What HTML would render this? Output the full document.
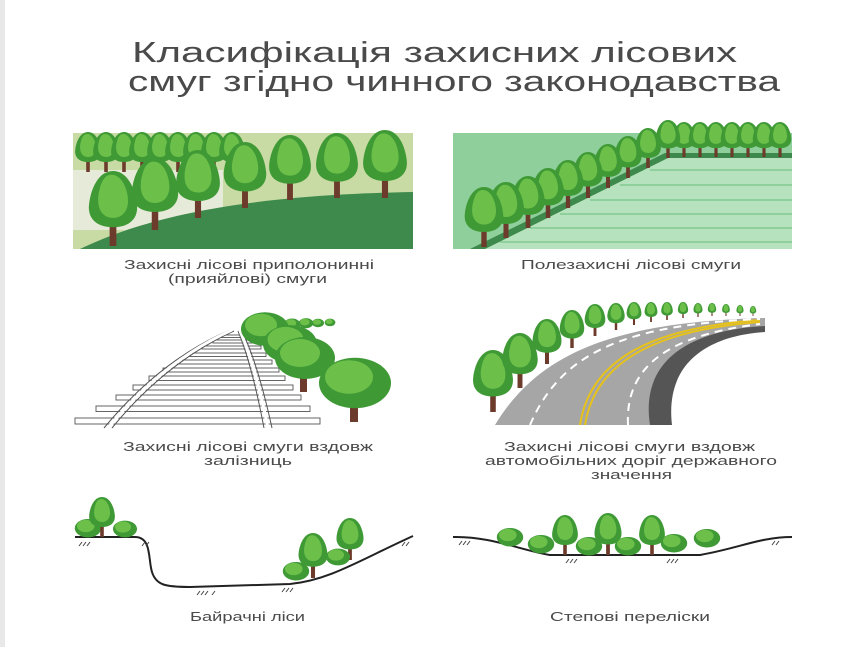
<!DOCTYPE html>
<html><head><meta charset="utf-8"><style>
html,body{margin:0;padding:0;background:#fff;}
svg{display:block;}
text{font-family:"Liberation Sans",sans-serif;fill:#4a4a4a;}
</style></head><body>
<svg width="858" height="647" viewBox="0 0 858 647" xmlns="http://www.w3.org/2000/svg">
<defs>
<g id="t">
<rect x="-0.045" y="-0.3" width="0.09" height="0.3" fill="#6d3b2b"/>
<path d="M0,-1 C0.2,-1 0.3,-0.75 0.32,-0.55 C0.34,-0.35 0.2,-0.25 0,-0.25 C-0.2,-0.25 -0.34,-0.35 -0.32,-0.55 C-0.3,-0.75 -0.2,-1 0,-1Z" fill="#3f9a36"/>
<path d="M-0.02,-0.95 C0.12,-0.95 0.2,-0.75 0.2,-0.6 C0.2,-0.45 0.1,-0.35 -0.05,-0.38 C-0.2,-0.42 -0.22,-0.6 -0.18,-0.75 C-0.15,-0.88 -0.1,-0.95 -0.02,-0.95Z" fill="#6cc04a"/>
</g>
<g id="b">
<ellipse cx="0" cy="-0.4" rx="0.6" ry="0.42" fill="#3f9a36"/>
<ellipse cx="-0.1" cy="-0.5" rx="0.4" ry="0.28" fill="#6cc04a"/>
</g>
</defs>
<rect x="0" y="0" width="5" height="647" fill="#e8e8e8"/>
<text x="132" y="62" font-size="29" textLength="605" lengthAdjust="spacingAndGlyphs">Класифікація захисних лісових</text>
<text x="128" y="91" font-size="29" textLength="652" lengthAdjust="spacingAndGlyphs">смуг згідно чинного законодавства</text>

<!-- Panel 1 -->
<rect x="73" y="133" width="340" height="116" fill="#c8dba4"/>
<rect x="73" y="170" width="150" height="60" fill="#e6ead8"/>
<path d="M80,249 C150,215 250,195 413,192 L413,249Z" fill="#3e8a4c"/>
<g>
<use href="#t" transform="translate(88,172) scale(40)"/>
<use href="#t" transform="translate(106,172) scale(40)"/>
<use href="#t" transform="translate(124,172) scale(40)"/>
<use href="#t" transform="translate(142,172) scale(40)"/>
<use href="#t" transform="translate(160,172) scale(40)"/>
<use href="#t" transform="translate(178,172) scale(40)"/>
<use href="#t" transform="translate(196,172) scale(40)"/>
<use href="#t" transform="translate(214,172) scale(40)"/>
<use href="#t" transform="translate(232,172) scale(40)"/>
<use href="#t" transform="translate(113,246) scale(75)"/>
<use href="#t" transform="translate(155,230) scale(72)"/>
<use href="#t" transform="translate(198,218) scale(68)"/>
<use href="#t" transform="translate(245,208) scale(66)"/>
<use href="#t" transform="translate(290,200) scale(65)"/>
<use href="#t" transform="translate(337,198) scale(65)"/>
<use href="#t" transform="translate(385,198) scale(68)"/>
</g>

<!-- Panel 2 -->
<rect x="453" y="133" width="339" height="116" fill="#8fcf9c"/>
<polygon points="475,249 668,155 792,155 792,249" fill="#b6e3bd"/>
<g stroke="#8fcf9c" stroke-width="2">
<line x1="650" y1="170" x2="792" y2="170"/><line x1="620" y1="185" x2="792" y2="185"/>
<line x1="590" y1="200" x2="792" y2="200"/><line x1="560" y1="214" x2="792" y2="214"/>
<line x1="530" y1="228" x2="792" y2="228"/><line x1="500" y1="242" x2="792" y2="242"/>
</g>
<polygon points="470,249 665,153 792,153 792,158 668,158 485,249" fill="#3e8a4c"/>
<g>
<use href="#t" transform="translate(684,157) scale(35)"/><use href="#t" transform="translate(700,157) scale(35)"/>
<use href="#t" transform="translate(716,157) scale(35)"/><use href="#t" transform="translate(732,157) scale(35)"/>
<use href="#t" transform="translate(748,157) scale(35)"/><use href="#t" transform="translate(764,157) scale(35)"/>
<use href="#t" transform="translate(780,157) scale(35)"/>
<use href="#t" transform="translate(668,158) scale(38)"/>
<use href="#t" transform="translate(648,168) scale(40)"/>
<use href="#t" transform="translate(628,178) scale(42)"/>
<use href="#t" transform="translate(608,188) scale(44)"/>
<use href="#t" transform="translate(588,198) scale(46)"/>
<use href="#t" transform="translate(568,208) scale(48)"/>
<use href="#t" transform="translate(548,218) scale(50)"/>
<use href="#t" transform="translate(528,228) scale(52)"/>
<use href="#t" transform="translate(506,238) scale(56)"/>
<use href="#t" transform="translate(484,247) scale(60)"/>
</g>
<text x="124" y="269" font-size="13" textLength="250" lengthAdjust="spacingAndGlyphs">Захисні лісові приполонинні</text>
<text x="168" y="283" font-size="13" textLength="159" lengthAdjust="spacingAndGlyphs">(прияйлові) смуги</text>
<text x="521" y="269" font-size="13" textLength="220" lengthAdjust="spacingAndGlyphs">Полезахисні лісові смуги</text>

<!-- Railway -->
<g stroke="#555" stroke-width="0.9" fill="#fff">
<rect x="221" y="335" width="31" height="2.5"/>
<rect x="213" y="340" width="43" height="3"/>
<rect x="202" y="346" width="59" height="3"/>
<rect x="190" y="353" width="76" height="3.5"/>
<rect x="177" y="360" width="95" height="4"/>
<rect x="163" y="368" width="116" height="4"/>
<rect x="149" y="376" width="136" height="4.5"/>
<rect x="133" y="385" width="160" height="5"/>
<rect x="116" y="395" width="185" height="5"/>
<rect x="96" y="406" width="214" height="5.5"/>
<rect x="75" y="418" width="245" height="6"/>
</g>
<g stroke="#555" stroke-width="1" fill="none">
<path d="M104,428 Q160,360 230,330"/>
<path d="M112,428 Q166,362 234,331"/>
<path d="M264,428 Q252,365 238,331"/>
<path d="M272,428 Q258,364 242,331"/>
</g>
<g stroke="#fff" stroke-width="3" fill="none">
<path d="M108,428 Q163,361 232,330"/>
<path d="M268,428 Q255,365 240,331"/>
</g>
<g>
<use href="#b" transform="translate(292,330) scale(14)"/>
<use href="#b" transform="translate(306,328) scale(12)"/>
<use href="#b" transform="translate(318,327) scale(10)"/>
<use href="#b" transform="translate(330,326) scale(9)"/>
<use href="#b" transform="translate(265,345) scale(40)"/>
<use href="#b" transform="translate(290,362) scale(45)"/>
<rect x="300" y="370" width="7" height="22" fill="#6d3b2b"/>
<use href="#b" transform="translate(305,378) scale(50)"/>
<rect x="350" y="395" width="8" height="27" fill="#6d3b2b"/>
<use href="#b" transform="translate(355,407) scale(60)"/>
</g>

<!-- Road -->
<path d="M495,425 C540,350 620,322 765,318 L765,328 C700,332 660,360 670,425Z" fill="#a6a6a6"/>
<path d="M650,425 C640,360 690,330 765,326 L765,332 C705,336 665,365 672,425Z" fill="#555"/>
<path d="M580,425 C590,360 650,328 760,320" stroke="#e6c21b" stroke-width="2" fill="none"/>
<path d="M585,425 C595,362 655,330 760,322" stroke="#e6c21b" stroke-width="2" fill="none"/>
<path d="M530,425 C560,355 620,325 760,319" stroke="#fff" stroke-width="2" stroke-dasharray="8 6" fill="none"/>
<path d="M628,425 C625,365 670,335 760,324" stroke="#fff" stroke-width="2" stroke-dasharray="8 6" fill="none"/>
<g>
<use href="#t" transform="translate(493,412) scale(62)"/>
<use href="#t" transform="translate(520,388) scale(55)"/>
<use href="#t" transform="translate(547,364) scale(45)"/>
<use href="#t" transform="translate(572,348) scale(38)"/>
<use href="#t" transform="translate(595,336) scale(32)"/>
<use href="#t" transform="translate(616,330) scale(27)"/>
<use href="#t" transform="translate(634,325) scale(23)"/>
<use href="#t" transform="translate(651,322) scale(20)"/>
<use href="#t" transform="translate(667,320) scale(18)"/>
<use href="#t" transform="translate(683,318) scale(16)"/>
<use href="#t" transform="translate(698,317) scale(14)"/>
<use href="#t" transform="translate(712,316) scale(13)"/>
<use href="#t" transform="translate(726,316) scale(12)"/>
<use href="#t" transform="translate(740,316) scale(11)"/>
<use href="#t" transform="translate(753,316) scale(10)"/>
</g>
<text x="123" y="451" font-size="13" textLength="250" lengthAdjust="spacingAndGlyphs">Захисні лісові смуги вздовж</text>
<text x="204" y="465" font-size="13" textLength="88" lengthAdjust="spacingAndGlyphs">залізниць</text>
<text x="504" y="451" font-size="13" textLength="251" lengthAdjust="spacingAndGlyphs">Захисні лісові смуги вздовж</text>
<text x="485" y="465" font-size="13" textLength="292" lengthAdjust="spacingAndGlyphs">автомобільних доріг державного</text>
<text x="591" y="479" font-size="13" textLength="81" lengthAdjust="spacingAndGlyphs">значення</text>

<!-- Bairachni -->
<path d="M75,537 L135,537 C152,537 148,560 152,572 C156,585 165,587 190,587 L290,584 C330,580 360,560 413,536" stroke="#222" stroke-width="2" fill="none"/>
<use href="#b" transform="translate(88,537) scale(22)"/>
<use href="#t" transform="translate(102,537) scale(40)"/>
<use href="#b" transform="translate(125,537) scale(20)"/>
<use href="#t" transform="translate(313,578) scale(45)"/>
<use href="#t" transform="translate(350,560) scale(42)"/>
<use href="#b" transform="translate(296,580) scale(22)"/>
<use href="#b" transform="translate(338,565) scale(20)"/>
<!-- Steppe -->
<path d="M453,537 C490,536 520,550 550,555 L700,555 C740,548 760,537 792,537" stroke="#222" stroke-width="2" fill="none"/>
<use href="#b" transform="translate(510,546) scale(22)"/>
<use href="#b" transform="translate(541,553) scale(22)"/>
<use href="#t" transform="translate(565,555) scale(40)"/>
<use href="#b" transform="translate(589,555) scale(22)"/>
<use href="#t" transform="translate(608,555) scale(42)"/>
<use href="#b" transform="translate(628,555) scale(22)"/>
<use href="#t" transform="translate(652,555) scale(40)"/>
<use href="#b" transform="translate(674,552) scale(22)"/>
<use href="#b" transform="translate(707,547) scale(22)"/>
<g stroke="#444" stroke-width="1">
<line x1="82" y1="542" x2="79" y2="546"/><line x1="86" y1="542" x2="83" y2="546"/><line x1="90" y1="542" x2="87" y2="546"/>
<line x1="145" y1="542" x2="142" y2="546"/><line x1="149" y1="542" x2="146" y2="546"/>
<line x1="200" y1="591" x2="197" y2="595"/><line x1="204" y1="591" x2="201" y2="595"/><line x1="208" y1="591" x2="205" y2="595"/>
<line x1="215" y1="591" x2="212" y2="595"/>
<line x1="285" y1="588" x2="282" y2="592"/><line x1="289" y1="588" x2="286" y2="592"/><line x1="293" y1="588" x2="290" y2="592"/>
<line x1="405" y1="542" x2="402" y2="546"/><line x1="409" y1="542" x2="406" y2="546"/>
<line x1="462" y1="541" x2="459" y2="545"/><line x1="466" y1="541" x2="463" y2="545"/><line x1="470" y1="541" x2="467" y2="545"/>
<line x1="569" y1="559" x2="566" y2="563"/><line x1="573" y1="559" x2="570" y2="563"/><line x1="577" y1="559" x2="574" y2="563"/>
<line x1="670" y1="559" x2="667" y2="563"/><line x1="674" y1="559" x2="671" y2="563"/><line x1="678" y1="559" x2="675" y2="563"/>
<line x1="775" y1="541" x2="772" y2="545"/><line x1="779" y1="541" x2="776" y2="545"/>
</g>
<text x="190" y="621" font-size="13" textLength="115" lengthAdjust="spacingAndGlyphs">Байрачні ліси</text>
<text x="550" y="621" font-size="13" textLength="160" lengthAdjust="spacingAndGlyphs">Степові переліски</text>
</svg>
</body></html>
